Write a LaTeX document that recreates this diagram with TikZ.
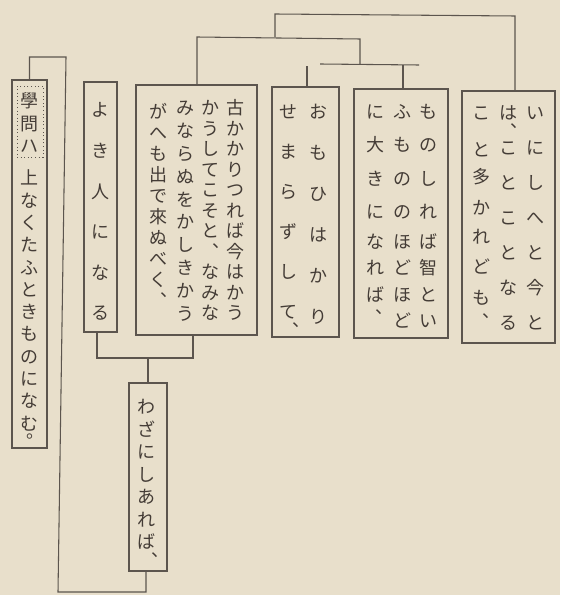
\documentclass[tikz,border=0pt]{standalone}
\usepackage{fontspec}
\newfontfamily\jp{Noto Sans CJK JP}
\usetikzlibrary{fit}
\definecolor{paper}{RGB}{232,223,203}
\definecolor{ink}{RGB}{68,60,54}
\definecolor{rule}{RGB}{92,85,78}
\tikzset{
  jc/.style={font=\jp\fontsize{13.5pt}{13.5pt}\selectfont, text=ink, inner sep=0pt, text height=11.9pt, text depth=1.6pt},
  jbox/.style={draw=rule, line width=0.8pt, inner sep=0pt},
  hbox/.style={draw=rule, dotted, line width=0.7pt, inner sep=0pt},
  conn/.style={draw=rule, line width=0.8pt},
}
\newcommand\vcol[4]{\foreach \ch [count=\i from 0] in {#4} {\node[jc] at (#1,{#2+\i*#3}) {\ch};}}
\newcommand\vcoly[2]{\foreach \ch/\yy in {#2} {\node[jc] at (#1,\yy) {\ch};}}
\begin{document}
\begin{tikzpicture}[x=0.75pt,y=-0.75pt]
\fill[paper] (0,0) rectangle (560,595);
\useasboundingbox (0,0) rectangle (560,595);

% boxes
\node[jbox, fit={(12,80) (47,448)}] (A) {};
\node[hbox, fit={(17,86) (43,157)}] (Ah) {};
\node[jbox, fit={(84,82) (117,332)}] (B) {};
\node[jbox, fit={(136,85) (257,335)}] (C) {};
\node[jbox, fit={(272,87) (339,337)}] (D) {};
\node[jbox, fit={(354,89) (448,338)}] (E) {};
\node[jbox, fit={(462,91) (555,343)}] (F) {};
\node[jbox, fit={(129,383) (167,571)}] (G) {};

% connectors
\coordinate (a1) at (515,16); \coordinate (a2) at (275,14);
\coordinate (b1) at (197,37); \coordinate (b2) at (360,39);
\coordinate (c1) at (320,64); \coordinate (c2) at (419,65);
\coordinate (dTop) at (307,66); \coordinate (eTop) at (403,65);
\draw[conn] (F.north -| a1) -- (a1) -- (a2) -- (a2 |- b1);
\draw[conn] (C.north -| b1) -- (b1) -- (b2) -- (b2 |- c1);
\draw[conn] (c1) -- (c2);
\draw[conn] (D.north -| dTop) -- (dTop);
\draw[conn] (E.north -| eTop) -- (eTop);

\coordinate (d1) at (97,358); \coordinate (d2) at (193,358);
\draw[conn] (B.south -| d1) -- (d1) -- (d2) -- (C.south -| d2);
\draw[conn] (G.north |- d1) -- (G.north);

\coordinate (e1) at (66,57); \coordinate (e2) at (58,592); \coordinate (e3) at (146,592);
\draw[conn] (A.north) -- (A.north |- e1) -- (e1) -- (e2) -- (e3) -- (G.south -| e3);

% text A
\vcol{29}{101}{22.5}{學,問,ハ}
\vcol{29}{178}{22.3}{上,な,く,た,ふ,と,き,も,の,に,な,む}
\node[jc] at (24,442) {︒};
% text B
\vcol{100}{110}{40.6}{よ,き,人,に,な,る}
% text C
\vcol{235}{108}{20.5}{古,か,か,り,つ,れ,ば,今,は,か,う}
\vcol{210}{108}{20.5}{か,う,し,て,こ,そ,と,︑,な,み,な}
\vcol{185}{108}{22.8}{み,な,ら,ぬ,を,か,し,き,か,う}
\vcol{158}{112}{21}{が,へ,も,出,で,來,ぬ,べ,く,︑}
% text D
\vcol{318}{112}{41}{お,も,ひ,は,か,り}
\vcol{288}{112}{40}{せ,ま,ら,ず,し,て}
\node[jc] at (290,331) {︑};
% text E
\vcoly{428}{も/112,の/145,し/179,れ/212,ば/242,智/268,と/295,い/321}
\vcoly{402}{ふ/112,も/145,の/179,の/212,ほ/242,ど/268,ほ/295,ど/321}
\vcoly{375}{に/112,大/145,き/179,に/212,な/242,れ/268,ば/295}
\node[jc] at (373,318) {︑};
% text F
\vcol{535}{113}{35}{い,に,し,へ,と,今,と}
\vcol{508}{113}{35}{は,こ,と,こ,と,な,る}
\node[jc] at (508,132) {︑};
\vcoly{481}{こ/113,と/150,多/177,か/208,れ/237,ど/267,も/298}
\node[jc] at (480,322) {︑};
% text G
\vcol{146}{407}{22.5}{わ,ざ,に,し,あ,れ,ば}
\node[jc] at (149,561) {︑};
\end{tikzpicture}
\end{document}
